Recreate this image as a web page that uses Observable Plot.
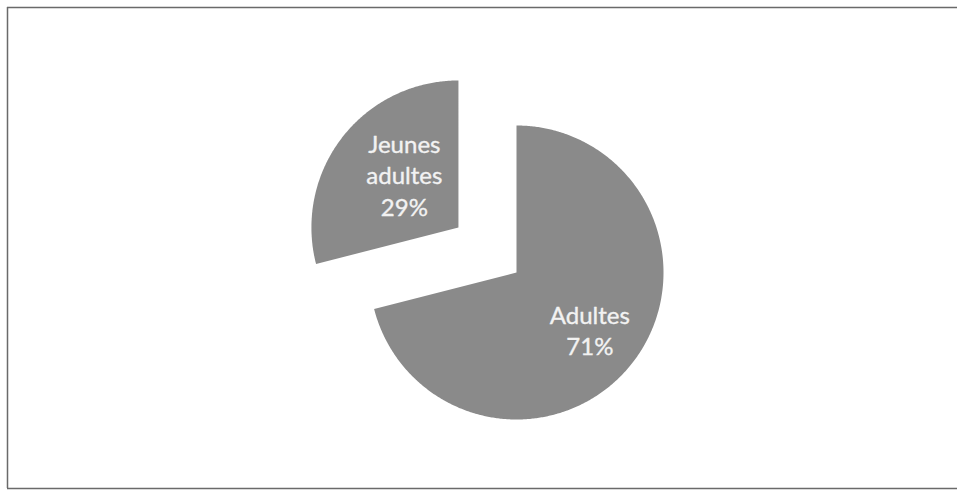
<!DOCTYPE html>
<html>
<head>
<meta charset="utf-8">
<script src="https://cdn.jsdelivr.net/npm/d3@7"></script>
<script src="https://cdn.jsdelivr.net/npm/@observablehq/plot@0.6"></script>
<style>
  html, body { margin: 0; padding: 0; background: #ffffff; overflow: hidden; }
  #chart svg { display: block; }
</style>
</head>
<body>
<div id="chart"></div>
<script>
// ---- data ----
const categories = ["Adultes", "Jeunes adultes"];
const shares = [71, 29];
const labelTexts = ["Adultes\n71%", "Jeunes\nadultes\n29%"];
const exploded = [false, true];

const W = 957, H = 491, R = 147, CX = 516, CY = 272;

// ---- geometry (pie in unit space, center 0,0 radius 1) ----
const total = d3.sum(shares);
const explodeDist = 0.5;
const labelRadius = [0.64, 0.5];
const labelNudge = [[-1, 1], [4, 8]]; // px: [right, up]
const slicePoints = [];
const labels = [];
let start = 0;
categories.forEach((cat, i) => {
  const a0 = start / total * 2 * Math.PI;
  const a1 = (start + shares[i]) / total * 2 * Math.PI;
  start += shares[i];
  const mid = (a0 + a1) / 2;
  const ox = exploded[i] ? explodeDist * Math.sin(mid) : 0;
  const oy = exploded[i] ? explodeDist * Math.cos(mid) : 0;
  slicePoints.push({cat, x: ox, y: oy});
  const steps = Math.max(2, Math.ceil((a1 - a0) / (Math.PI / 360)));
  for (let k = 0; k <= steps; k++) {
    const a = a0 + (a1 - a0) * k / steps;
    slicePoints.push({cat, x: ox + Math.sin(a), y: oy + Math.cos(a)});
  }
  labels.push({
    cat,
    text: labelTexts[i],
    x: ox + labelRadius[i] * Math.sin(mid) + labelNudge[i][0] / R,
    y: oy + labelRadius[i] * Math.cos(mid) + labelNudge[i][1] / R
  });
});

// chart border (open on the right, as in the scan)
const px = v => (v - CX) / R;
const py = v => (CY - v) / R;
const borderH = [{y: py(7), x1: px(7), x2: px(W + 10)}, {y: py(488), x1: px(7), x2: px(W + 10)}];
const borderV = [{x: px(7), y1: py(7), y2: py(488)}];
const frameStyle = {stroke: "#6a6a6a", strokeWidth: 1.5};

const chart = Plot.plot({
  width: W,
  height: H,
  margin: 0,
  style: {background: "#ffffff"},
  x: {domain: [-CX / R, (W - CX) / R], range: [0, W], axis: null},
  y: {domain: [-(H - CY) / R, CY / R], range: [H, 0], axis: null},
  marks: [
    Plot.ruleY(borderH, {y: "y", x1: "x1", x2: "x2", ...frameStyle, clip: true}),
    Plot.ruleX(borderV, {x: "x", y1: "y1", y2: "y2", ...frameStyle}),
    Plot.line(slicePoints, {x: "x", y: "y", z: "cat", fill: "#8a8a8a", stroke: "none", curve: "linear-closed"}),
    Plot.text(labels, {
      x: "x", y: "y", text: "text",
      fill: "#f2f2f2",
      stroke: "#f2f2f2",
      strokeWidth: 0.35,
      fontSize: 24,
      fontFamily: "Lato, 'Open Sans', sans-serif",
      lineHeight: 1.3,
      textAnchor: "middle"
    })
  ]
});
document.getElementById("chart").appendChild(chart);
</script>
</body>
</html>
